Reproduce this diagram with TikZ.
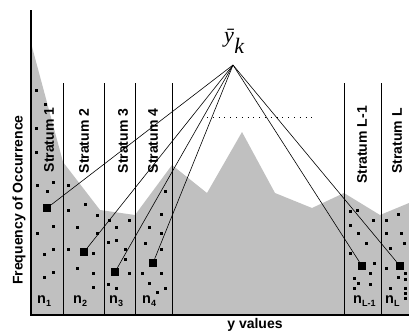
\documentclass[tikz,border=0pt]{standalone}
\usepackage{fontspec}
\newfontfamily\arial{Liberation Sans}
\newfontfamily\lserif{Liberation Serif}
\definecolor{areagray}{RGB}{192,192,192}
\begin{document}
\begin{tikzpicture}[x=1pt,y=-1pt,
  lbl/.style={font=\arial\bfseries\fontsize{14}{16}\selectfont, inner sep=0pt},
  stratlbl/.style={lbl, rotate=90},
  bigsq/.style={fill=black, minimum size=8pt, inner sep=0pt, draw=none},
  nlbl/.style={font=\arial\bfseries\fontsize{14.5}{16}\selectfont, inner sep=0pt, anchor=base west},
  conn/.style={line width=0.6pt},
  divider/.style={line width=0.8pt}]
\useasboundingbox (0,0) rectangle (409,333);
% gray distribution
\fill[areagray] (31,43) -- (63,162) -- (100,210) -- (135,215) -- (172,165) -- (207,193)
  -- (242,132) -- (275,193) -- (312,208) -- (344,193) -- (380,215) -- (409,203)
  -- (409,315) -- (31,315) -- cycle;
% dotted line
\draw[line width=0.6pt, dash pattern=on 0.8pt off 5pt] (207,117) -- (312,117);
% strata dividers
\foreach \x in {63,104,135,172,344,381} \draw[divider] (\x,83) -- (\x,315);
% axes
\draw[line width=1.6pt] (31,10) -- (31,315) -- (409,315);
% small dots
\foreach \p in {(36,90),(45,104),(36,128),(36,152),(37,185),(53,182),(47,191),(53,226),(37,233),(53,249),(44,254),(53,272),(44,277),
 (68,185),(85,204),(68,210),(97,215),(77,227),(97,233),(68,249),(93,253),(77,268),(93,273),(93,287),
 (109,220),(129,220),(116,227),(108,242),(116,240),(125,249),(125,259),(129,273),(108,284),(116,288),
 (165,191),(161,214),(149,227),(161,233),(145,243),(161,249),(142,273),(161,273),(149,283),(165,288),(157,292),
 (350,211),(357,210),(373,220),(350,225),(358,233),(366,243),(350,253),(374,263),(370,273),(354,278),(358,283),(370,284),(354,288),
 (386,220),(398,214),(386,233),(401,233),(390,248),(404,243),(386,268),(398,277),(405,273),(405,279),(390,288),(405,288),(405,293),(405,298)}
  \fill \p ++(-1.5,-1.5) rectangle ++(3,3);
% apex and large squares
\coordinate (apex) at (233,65);
\node[bigsq] (s1) at (47,208) {};
\node[bigsq] (s2) at (84,252) {};
\node[bigsq] (s3) at (115,272) {};
\node[bigsq] (s4) at (153,263) {};
\node[bigsq] (sL1) at (362,266) {};
\node[bigsq] (sL) at (400,266) {};
\foreach \s in {s1,s2,s3,s4,sL1,sL} \draw[conn] (apex) -- (\s);
% mean label
\node[inner sep=0pt, anchor=base west, font=\lserif\itshape\fontsize{22}{24}\selectfont] (ybar) at (224,42) {\={y}\kern0.5pt\raisebox{-11pt}{k}};
% stratum labels
\node[stratlbl] (t1) at (49,140) {Stratum 1};
\node[stratlbl] (t2) at (84,141) {Stratum 2};
\node[stratlbl] (t3) at (123,141) {Stratum 3};
\node[stratlbl] (t4) at (153,141) {Stratum 4};
\node[stratlbl] (tL1) at (362,145) {Stratum L-1};
\node[stratlbl] (tL) at (397,141) {Stratum L};
% n labels
\newcommand{\nsub}[1]{n\raisebox{-3pt}{\fontsize{9}{10}\selectfont #1}}
\node[nlbl] (n1) at (37,303) {\nsub{1}};
\node[nlbl] (n2) at (73,303) {\nsub{2}};
\node[nlbl] (n3) at (109,303) {\nsub{3}};
\node[nlbl] (n4) at (142,303) {\nsub{4}};
\node[nlbl] (nL1) at (353,303) {\nsub{L-1}};
\node[nlbl] (nL) at (385,303) {\nsub{L}};
% axis labels
\node[stratlbl] (ylab) at (19,200) {Frequency of Occurrence};
\node[lbl] (xlab) at (255,325) {y values};
\end{tikzpicture}
\end{document}
